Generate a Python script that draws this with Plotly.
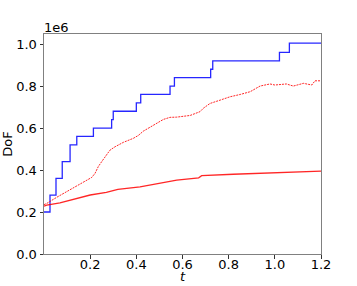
import plotly.graph_objects as go

# Blue step series (DoF, x1e6)
blue_t = [0, 0.026, 0.052, 0.079, 0.113, 0.142, 0.214, 0.293, 0.30, 0.40, 0.419,
          0.546, 0.565, 0.722, 0.731, 1.02, 1.063, 1.2]
blue_v = [0.20, 0.28, 0.36, 0.44, 0.52, 0.56, 0.60, 0.64, 0.68, 0.72, 0.76,
          0.80, 0.84, 0.88, 0.92, 0.96, 1.005, 1.005]

# Red solid series
red_t = [0, 0.012, 0.069, 0.127, 0.2, 0.27, 0.29, 0.32, 0.416, 0.488, 0.546,
         0.575, 0.67, 0.683, 0.82, 0.98, 1.2]
red_v = [0.228, 0.233, 0.244, 0.26, 0.281, 0.294, 0.30, 0.308, 0.32, 0.336, 0.349,
         0.352, 0.363, 0.373, 0.38, 0.387, 0.395]

# Red dotted series
dot_t = [0, 0.012, 0.055, 0.098, 0.142, 0.185, 0.207, 0.221, 0.235, 0.25, 0.272,
         0.286, 0.308, 0.329, 0.344, 0.387, 0.409, 0.43, 0.474, 0.517, 0.546,
         0.575, 0.633, 0.676, 0.69, 0.719, 0.763, 0.806, 0.85, 0.893, 0.936,
         0.979, 1.0, 1.05, 1.08, 1.124, 1.16, 1.174, 1.2]
dot_v = [0.235, 0.241, 0.27, 0.297, 0.324, 0.349, 0.365, 0.384, 0.416, 0.44, 0.471,
         0.495, 0.511, 0.525, 0.532, 0.551, 0.565, 0.585, 0.614, 0.641, 0.651,
         0.652, 0.66, 0.678, 0.694, 0.717, 0.733, 0.749, 0.76, 0.773, 0.80,
         0.81, 0.805, 0.81, 0.80, 0.813, 0.805, 0.825, 0.825]

x_ticks = [0.2, 0.4, 0.6, 0.8, 1.0, 1.2]
y_ticks = [0.0, 0.2, 0.4, 0.6, 0.8, 1.0]

scale = 1e6
fig = go.Figure()
fig.add_trace(go.Scatter(x=blue_t, y=[v * scale for v in blue_v], mode="lines",
                         line=dict(color="rgba(0,0,255,0.85)", width=1.3, shape="hv")))
fig.add_trace(go.Scatter(x=dot_t, y=[v * scale for v in dot_v], mode="lines",
                         line=dict(color="rgba(255,0,0,0.85)", width=1, dash="2px,1px")))
fig.add_trace(go.Scatter(x=red_t, y=[v * scale for v in red_v], mode="lines",
                         line=dict(color="rgba(255,0,0,0.85)", width=1.3)))

font = dict(family="DejaVu Sans", size=13, color="black")
fig.update_layout(
    width=357, height=286,
    margin=dict(l=44, r=36, t=34, b=32),
    paper_bgcolor="white", plot_bgcolor="white",
    showlegend=False, font=font,
    xaxis=dict(range=[0, 1.2], tickvals=x_ticks, ticktext=[f"{v:.1f}" for v in x_ticks],
               showgrid=False, zeroline=False, showline=True, mirror=True,
               linecolor="#808080", linewidth=1, ticks="outside", ticklen=3.5,
               tickcolor="#333", automargin=False, ticklabelstandoff=-5),
    yaxis=dict(range=[0, 1.048e6], tickvals=[v * scale for v in y_ticks],
               ticktext=[f"{v:.1f}" for v in y_ticks],
               showgrid=False, zeroline=False, showline=True, mirror=True,
               linecolor="#808080", linewidth=1, ticks="outside", ticklen=3.5,
               tickcolor="#333", automargin=False,
               title=dict(text="DoF", standoff=4, font=font)),
    annotations=[
        dict(text="1e6", xref="paper", yref="paper", x=0, y=1.0,
             xanchor="left", yanchor="bottom", showarrow=False, font=font,
             xshift=-2, yshift=-3),
        dict(text="<i>t</i>", xref="paper", yref="paper", x=0.5, y=0,
             xanchor="center", yanchor="middle", showarrow=False, font=font,
             yshift=-22),
    ],
)
fig.write_html("out.html", post_script="document.body.style.margin='0';",
               config={"displayModeBar": False})
